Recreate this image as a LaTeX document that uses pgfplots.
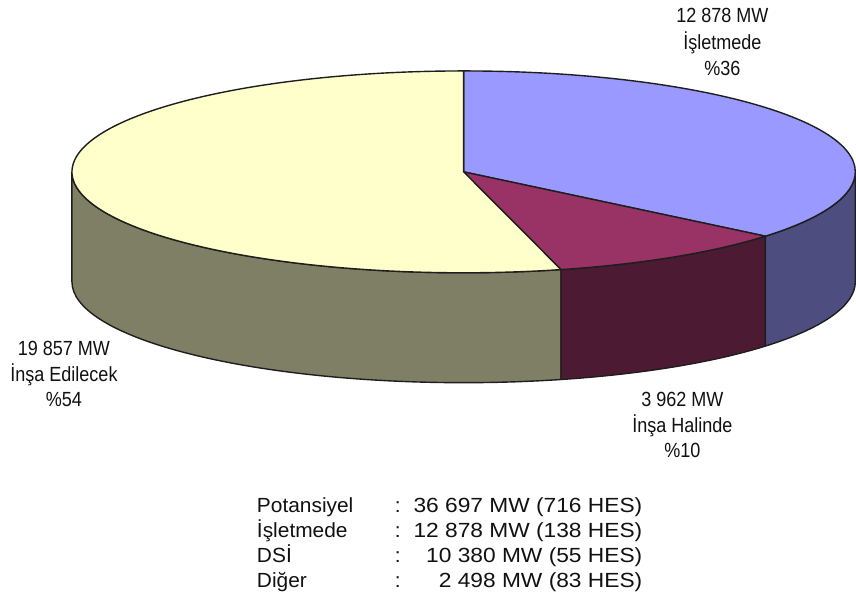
\documentclass[border=0pt]{standalone}
\usepackage{pgfplots}
\pgfplotsset{compat=1.18}
\usepackage{fontspec}
\setmainfont{Liberation Sans}
\newfontfamily\lblfam{Liberation Sans}[FakeStretch=0.88]
\newfontfamily\legfam{Liberation Sans}[FakeStretch=1.02]
\newfontfamily\valfam{Liberation Sans}[FakeStretch=1.11]
\definecolor{blueTop}{HTML}{9999FF}
\definecolor{blueSide}{HTML}{4D4D80}
\definecolor{marTop}{HTML}{993366}
\definecolor{marSide}{HTML}{4D1A33}
\definecolor{yelTop}{HTML}{FFFFCC}
\definecolor{yelSide}{HTML}{7F7F66}
\definecolor{edge}{HTML}{1E1E1E}
\definecolor{txt}{HTML}{111111}
% slice shares (percent) as shown on the chart
\def\pA{36}% Isletmede
\def\pB{10}% Insa Halinde
\def\pC{54}% Insa Edilecek
\pgfmathsetmacro\aA{90-3.6*\pA}
\pgfmathsetmacro\aB{\aA-3.6*\pB}
\pgfmathsetmacro\aBB{\aB+360}
\pgfmathsetmacro\aC{\aB-3.6*\pC}
\def\cx{464}\def\cy{444}\def\rx{392}\def\ry{101}\def\dep{110}
\begin{document}
\begin{tikzpicture}
\begin{axis}[
  width=856bp, height=616bp, scale only axis,
  xmin=0, xmax=856, ymin=0, ymax=616,
  enlargelimits=false, hide axis, clip=false,
]
\path (axis cs:0,0) rectangle (axis cs:856,616);
% side faces
\filldraw[fill=yelSide, draw=edge, line width=1.4bp, line join=round]
  (axis cs:{\cx+\rx*cos(180)},{\cy+\ry*sin(180)})
  arc[start angle=180, end angle=\aBB, x radius=\rx bp, y radius=\ry bp]
  -- (axis cs:{\cx+\rx*cos(\aBB)},{\cy+\ry*sin(\aBB)-\dep})
  arc[start angle=\aBB, end angle=180, x radius=\rx bp, y radius=\ry bp]
  -- cycle;
\filldraw[fill=marSide, draw=edge, line width=1.4bp, line join=round]
  (axis cs:{\cx+\rx*cos(\aB)},{\cy+\ry*sin(\aB)})
  arc[start angle=\aB, end angle=\aA, x radius=\rx bp, y radius=\ry bp]
  -- (axis cs:{\cx+\rx*cos(\aA)},{\cy+\ry*sin(\aA)-\dep})
  arc[start angle=\aA, end angle=\aB, x radius=\rx bp, y radius=\ry bp]
  -- cycle;
\filldraw[fill=blueSide, draw=edge, line width=1.4bp, line join=round]
  (axis cs:{\cx+\rx*cos(\aA)},{\cy+\ry*sin(\aA)})
  arc[start angle=\aA, end angle=0, x radius=\rx bp, y radius=\ry bp]
  -- (axis cs:{\cx+\rx},{\cy-\dep})
  arc[start angle=0, end angle=\aA, x radius=\rx bp, y radius=\ry bp]
  -- cycle;
% top faces
\filldraw[fill=blueTop, draw=edge, line width=1.4bp, line join=round]
  (axis cs:\cx,\cy) -- (axis cs:{\cx},{\cy+\ry})
  arc[start angle=90, end angle=\aA, x radius=\rx bp, y radius=\ry bp] -- cycle;
\filldraw[fill=marTop, draw=edge, line width=1.4bp, line join=round]
  (axis cs:\cx,\cy) -- (axis cs:{\cx+\rx*cos(\aA)},{\cy+\ry*sin(\aA)})
  arc[start angle=\aA, end angle=\aB, x radius=\rx bp, y radius=\ry bp] -- cycle;
\filldraw[fill=yelTop, draw=edge, line width=1.4bp, line join=round]
  (axis cs:\cx,\cy) -- (axis cs:{\cx+\rx*cos(\aB)},{\cy+\ry*sin(\aB)})
  arc[start angle=\aB, end angle=\aC, x radius=\rx bp, y radius=\ry bp] -- cycle;
% slice labels
\begin{scope}[every node/.style={anchor=base, inner sep=0pt, text=txt, font=\lblfam\fontsize{20.5bp}{26bp}\selectfont}]
\node at (axis cs:723,593) {12 878 MW};
\node at (axis cs:723,566) {İşletmede};
\node at (axis cs:723,540) {\%36};
\node at (axis cs:64,260) {19 857 MW};
\node at (axis cs:64,234) {İnşa Edilecek};
\node at (axis cs:64,209) {\%54};
\node at (axis cs:683,209) {3 962 MW};
\node at (axis cs:683,183) {İnşa Halinde};
\node at (axis cs:683,158) {\%10};
\end{scope}
% summary
\begin{scope}[every node/.style={inner sep=0pt, text=txt, font=\legfam\fontsize{20.5bp}{25bp}\selectfont}]
\node[anchor=base west] at (axis cs:257,103) {Potansiyel};
\node[anchor=base west] at (axis cs:257,78) {İşletmede};
\node[anchor=base west] at (axis cs:257,53) {DSİ};
\node[anchor=base west] at (axis cs:257,28) {Diğer};
\node[anchor=base] at (axis cs:398,103) {:};
\node[anchor=base] at (axis cs:398,78) {:};
\node[anchor=base] at (axis cs:398,53) {:};
\node[anchor=base] at (axis cs:398,28) {:};
\end{scope}
\begin{scope}[every node/.style={inner sep=0pt, text=txt, anchor=base east, font=\valfam\fontsize{20.5bp}{25bp}\selectfont}]
\node at (axis cs:643,103) {36 697 MW (716 HES)};
\node at (axis cs:643,78) {12 878 MW (138 HES)};
\node at (axis cs:643,53) {10 380 MW (55 HES)};
\node at (axis cs:643,28) {2 498 MW (83 HES)};
\end{scope}
\end{axis}
\end{tikzpicture}
\end{document}
